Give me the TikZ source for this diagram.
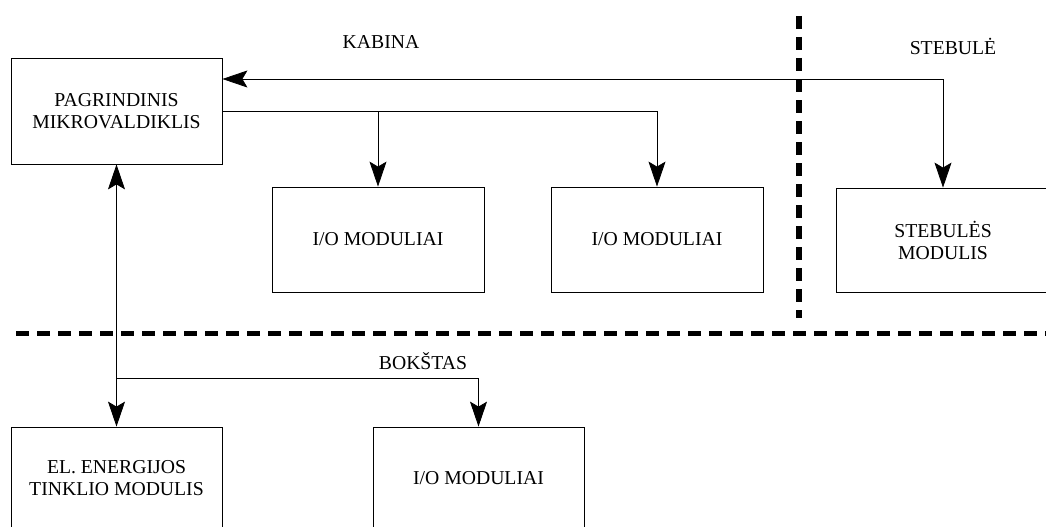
\documentclass[tikz,border=0pt]{standalone}
\usepackage{fontspec}
\setmainfont{Liberation Serif}
\usetikzlibrary{arrows.meta}

\begin{document}
\begin{tikzpicture}[x=1pt,y=-1pt,
    font=\fontsize{19.7}{22}\selectfont,
    tip/.tip={Stealth[length=25pt,width=17pt,inset=5pt]},
    unit/.style={draw, line width=0.8pt, rectangle, inner sep=0pt, align=center},
    link/.style={line width=0.8pt, -tip},
    biflow/.style={line width=0.8pt, tip-tip},
    border/.style={line width=#1, dash pattern=on 13pt off 8pt},
    zone/.style={inner sep=0pt}]
  \useasboundingbox (0,0) rectangle (1046,527);

  % zone boundaries
  \draw[border=6pt] (799,16) -- (799,318);
  \draw[border=5pt] (16,333) -- (1050,333);

  % zone names
  \node[zone] (kabina)  at (381,42)  {KABINA};
  \node[zone] (stebule) at (953,46)  {STEBULĖ};
  \node[zone] (bokstas) at (423,361) {BOKŠTAS};

  % modules
  \node[unit, minimum width=211pt, minimum height=106pt] (main) at (116.5,111)
    {PAGRINDINIS\\MIKROVALDIKLIS};
  \node[unit, minimum width=212pt, minimum height=105pt] (io1) at (378,239.5) {I/O MODULIAI};
  \node[unit, minimum width=212pt, minimum height=105pt] (io2) at (657,239.5) {I/O MODULIAI};
  \node[unit, minimum width=214pt, minimum height=104pt] (hub) at (943,240)
    {STEBULĖS\\MODULIS};
  \node[unit, minimum width=211pt, minimum height=103pt] (grid) at (116.5,478.5)
    {EL. ENERGIJOS\\TINKLIO MODULIS};
  \node[unit, minimum width=211pt, minimum height=103pt] (io3) at (478.5,478.5) {I/O MODULIAI};

  % bus junctions
  \coordinate (topbus) at (943,79);
  \coordinate (tap) at (116.5,378);

  % connectors
  \draw[biflow] (main.east |- topbus) -| (hub.north);
  \draw[link] (main.east) -| (io2.north);
  \draw[link] (io1.north |- main.east) -- (io1.north);
  \draw[biflow] (main.south) -- (grid.north);
  \draw[link] (tap) -| (io3.north);
\end{tikzpicture}
\end{document}
